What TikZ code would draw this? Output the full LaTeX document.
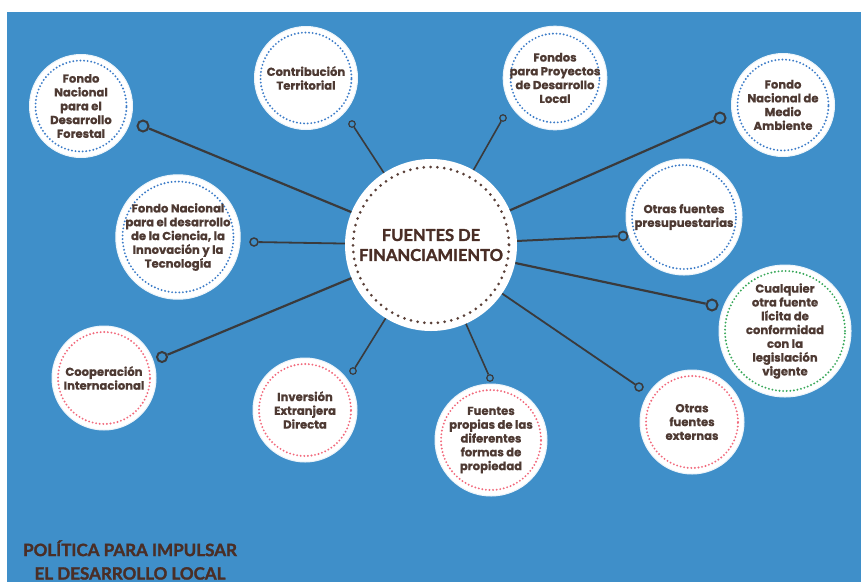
\documentclass[tikz,border=0pt]{standalone}
\usepackage{fontspec}
\setmainfont{Poppins}[BoldFeatures={FakeBold=0.7}]
\newfontfamily\titlefont{Lato}[BoldFeatures={FakeBold=1.6}]
\definecolor{bg}{HTML}{3F8FC9}
\definecolor{txt}{HTML}{4E3A33}
\definecolor{ttl}{HTML}{4A2E26}
\definecolor{dotblue}{HTML}{3C7CC8}
\definecolor{dotred}{HTML}{F2697C}
\definecolor{dotgreen}{HTML}{39A85A}
\definecolor{dotbrown}{HTML}{5A4038}
\definecolor{wire}{HTML}{3A3A3C}
\tikzset{
  bubble/.style n args={3}{circle, fill=white, draw=white!90!bg, line width=1pt,
    minimum size=#1, inner sep=0pt, align=center, text=txt,
    font=\bfseries\fontsize{11.6}{13.8}\selectfont,
    path picture={\draw[#2, line width=2.1pt, line cap=round, dash pattern=on 0pt off 3.6pt]
      (path picture bounding box.center) circle[radius=#1/2-#3];}},
  pin/.style={circle, draw=wire, fill=bg, inner sep=0pt, minimum size=#1},
  wirel/.style={draw=wire, line width=#1},
}
\begin{document}
\begin{tikzpicture}[x=1pt,y=-1pt]
\fill[white] (0,0) rectangle (861,582);
\fill[bg] (7,12) rectangle (861,582);
\useasboundingbox (0,0) rectangle (861,582);

% centre
\node[circle, fill=white, minimum size=172, inner sep=0pt, align=center, text=ttl,
  font=\titlefont\bfseries\fontsize{16.5}{20}\selectfont,
  path picture={\draw[dotbrown, line width=3pt, line cap=round, dash pattern=on 0pt off 6.8pt]
      (path picture bounding box.center) circle[radius=78];}]
  (c) at (431,245) {FUENTES DE\\FINANCIAMIENTO};

% satellites
\node[bubble={103pt}{dotblue}{6pt}] (n1) at (81,106) {Fondo\\Nacional\\para el\\Desarrollo\\Forestal};
\node[bubble={103pt}{dotblue}{6pt}] (n2) at (306,78) {Contribución\\Territorial};
\node[bubble={101pt}{dotblue}{6pt}] (n3) at (555,78) {Fondos\\para Proyectos\\de Desarrollo\\Local};
\node[bubble={103pt}{dotblue}{6pt}] (n4) at (783,105) {Fondo\\Nacional de\\Medio\\Ambiente};
\node[bubble={123pt}{dotblue}{6pt}] (n6) at (178,237) {Fondo Nacional\\para el desarrollo\\de la Ciencia, la\\Innovación y la\\Tecnología};
\node[bubble={116pt}{dotblue}{6pt}] (n7) at (684,217) {Otras fuentes\\presupuestarias};
\node[bubble={132pt}{dotgreen}{6pt}] (n8) at (785,331) {Cualquier\\otra fuente\\lícita de\\conformidad\\con la\\legislación\\vigente};
\node[bubble={104pt}{dotred}{6pt}] (n9) at (692,422) {Otras\\fuentes\\externas};
\node[bubble={112pt}{dotred}{6pt}] (n10) at (491,440) {Fuentes\\propias de las\\diferentes\\formas de\\propiedad};
\node[bubble={104pt}{dotred}{6pt}] (n11) at (305,410) {Inversión\\Extranjera\\Directa};
\node[bubble={104pt}{dotred}{6pt}] (n12) at (104,378) {Cooperación\\Internacional};

% pins
\node[pin=11pt, line width=2pt] (p1) at (143,126) {};
\node[pin=6.5pt, line width=1.2pt] (p2) at (352,124) {};
\node[pin=6.5pt, line width=1.2pt] (p3) at (503,118) {};
\node[pin=11pt, line width=2pt] (p4) at (720,118) {};
\node[pin=8pt, line width=1.5pt] (p6) at (254,242) {};
\node[pin=9pt, line width=1.8pt] (p7) at (623,236) {};
\node[pin=11pt, line width=2pt] (p8) at (712,305) {};
\node[pin=8pt, line width=1.5pt] (p9) at (639,387) {};
\node[pin=6.5pt, line width=1.2pt] (p10) at (490,378) {};
\node[pin=6.5pt, line width=1.2pt] (p11) at (353,371) {};
\node[pin=10pt, line width=2pt] (p12) at (162,357) {};

% connectors
\draw[wirel=2.2pt] (c) -- (p1);
\draw[wirel=1.6pt] (c) -- (p2);
\draw[wirel=1.6pt] (c) -- (p3);
\draw[wirel=2.2pt] (c) -- (p4);
\draw[wirel=1.8pt] (c) -- (p6);
\draw[wirel=2pt] (c) -- (p7);
\draw[wirel=2.2pt] (c) -- (p8);
\draw[wirel=1.8pt] (c) -- (p9);
\draw[wirel=1.6pt] (c) -- (p10);
\draw[wirel=1.6pt] (c) -- (p11);
\draw[wirel=2.2pt] (c) -- (p12);

% title
\node[text=ttl, align=center, font=\titlefont\bfseries\fontsize{17}{23.5}\selectfont]
  (t) at (130,560) {POLÍTICA PARA IMPULSAR\\EL DESARROLLO LOCAL};
\end{tikzpicture}
\end{document}
